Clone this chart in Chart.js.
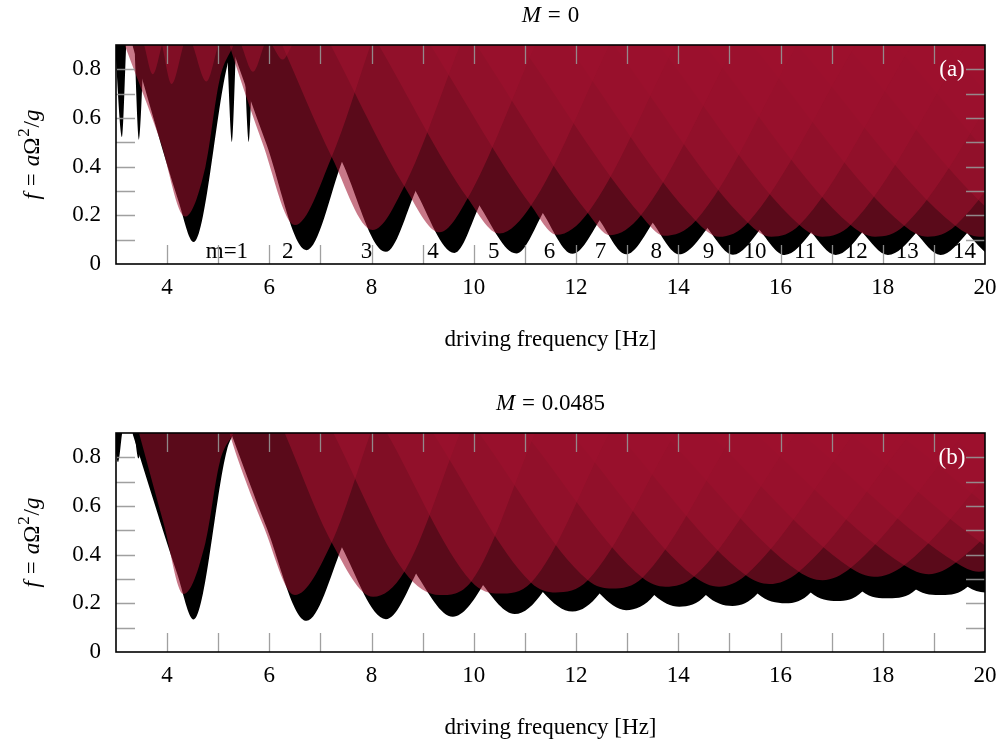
<!DOCTYPE html>
<html>
<head>
<meta charset="utf-8">
<script src="https://cdn.jsdelivr.net/npm/chart.js@4.4.0/dist/chart.umd.min.js"></script>
<style>
  html, body { margin: 0; padding: 0; background: #fff; }
  #wrap { position: relative; width: 1007px; height: 742px; }
  canvas { position: absolute; left: 0; }
  #chartA { top: 0; }
  #chartB { top: 388px; }
</style>
</head>
<body>
<div id="wrap">
  <canvas id="chartA" width="1007" height="388"></canvas>
  <canvas id="chartB" width="1007" height="354"></canvas>
</div>
<script>
// axis ranges
const freqMin = 3, freqMax = 20, fMin = 0, fMax = 0.9;

// each tongue is [frequency Hz, f] points: edge at f=0.9, left crossing,
// minimum, right crossing, edge at f=0.9
const blackTonguesA = [
  [[3.32, 0.9], [4.22, 0.26], [4.52, 0.09], [5.17, 0.81], [5.3, 0.9]],
  [[5.25, 0.9], [5.93, 0.5], [6.73, 0.057], [7.42, 0.42], [8.2, 0.9]],
  [[6.35, 0.9], [7.42, 0.42], [8.28, 0.05], [8.86, 0.30], [9.95, 0.9]],
  [[7.43, 0.9], [8.86, 0.30], [9.62, 0.045], [10.11, 0.24], [11.43, 0.9]],
  [[8.37, 0.9], [10.11, 0.24], [10.83, 0.043], [11.35, 0.21], [12.88, 0.9]],
  [[9.38, 0.9], [11.35, 0.21], [11.93, 0.042], [12.46, 0.18], [14.17, 0.9]],
  [[10.28, 0.9], [12.46, 0.18], [12.98, 0.04], [13.5, 0.17], [15.33, 0.9]],
  [[11.15, 0.9], [13.5, 0.17], [14.02, 0.04], [14.57, 0.148], [16.55, 0.9]],
  [[12.06, 0.9], [14.57, 0.148], [15.07, 0.038], [15.59, 0.14], [17.7, 0.9]],
  [[12.97, 0.9], [15.59, 0.14], [16.08, 0.037], [16.6, 0.13], [18.8, 0.9]],
  [[13.85, 0.9], [16.6, 0.13], [17.08, 0.037], [17.6, 0.13], [19.86, 0.9]],
  [[14.75, 0.9], [17.6, 0.13], [18.1, 0.037], [18.65, 0.127], [20.99, 0.9]],
  [[15.68, 0.9], [18.65, 0.127], [19.13, 0.037], [19.65, 0.127], [22.07, 0.9]],
  [[16.56, 0.9], [19.65, 0.127], [20.15, 0.037], [20.67, 0.127], [23.1, 0.9]],
  [[17.51, 0.9], [20.67, 0.127], [21.18, 0.037], [21.7, 0.127], [24.1, 0.9]],
  [[18.48, 0.9], [21.7, 0.127], [22.22, 0.037], [22.73, 0.127], [25.1, 0.9]],
  [[19.44, 0.9], [22.73, 0.127], [23.25, 0.037], [23.77, 0.127], [26.1, 0.9]]
];

const redTonguesA = [
  [[3.17, 0.9], [3.86, 0.51], [4.35, 0.195], [4.75, 0.4], [5.03, 0.76], [5.3, 0.9]],
  [[5.22, 0.9], [5.37, 0.8], [5.86, 0.5], [6.5, 0.16], [7.22, 0.44], [7.98, 0.9]],
  [[6.25, 0.9], [7.22, 0.44], [8.02, 0.14], [8.64, 0.32], [9.73, 0.9]],
  [[7.2, 0.9], [8.64, 0.32], [9.33, 0.13], [9.88, 0.27], [11.2, 0.9]],
  [[8.14, 0.9], [9.88, 0.27], [10.5, 0.125], [11.12, 0.24], [12.65, 0.9]],
  [[9.15, 0.9], [11.12, 0.24], [11.62, 0.12], [12.23, 0.21], [13.94, 0.9]],
  [[10.05, 0.9], [12.23, 0.21], [12.67, 0.118], [13.27, 0.2], [15.1, 0.9]],
  [[10.92, 0.9], [13.27, 0.2], [13.72, 0.116], [14.34, 0.178], [16.32, 0.9]],
  [[11.83, 0.9], [14.34, 0.178], [14.8, 0.112], [15.36, 0.17], [17.47, 0.9]],
  [[12.74, 0.9], [15.36, 0.17], [15.82, 0.112], [16.37, 0.16], [18.57, 0.9]],
  [[13.62, 0.9], [16.37, 0.16], [16.82, 0.112], [17.37, 0.16], [19.63, 0.9]],
  [[14.52, 0.9], [17.37, 0.16], [17.85, 0.112], [18.42, 0.157], [20.76, 0.9]],
  [[15.45, 0.9], [18.42, 0.157], [18.88, 0.112], [19.42, 0.157], [21.84, 0.9]],
  [[16.33, 0.9], [19.42, 0.157], [19.9, 0.112], [20.44, 0.157], [22.9, 0.9]],
  [[17.28, 0.9], [20.44, 0.157], [20.93, 0.112], [21.47, 0.157], [24, 0.9]],
  [[18.25, 0.9], [21.47, 0.157], [21.96, 0.112], [22.5, 0.157], [25, 0.9]],
  [[19.21, 0.9], [22.5, 0.157], [22.99, 0.112], [23.54, 0.157], [26, 0.9]]
];

// narrow tongues hanging down from the top edge
const blackSpikesA = [
  [[2.98, 0.9], [3.12, 0.52], [3.2, 0.9]],
  [[3.36, 0.9], [3.45, 0.51], [3.55, 0.9]],
  [[5.17, 0.9], [5.27, 0.5], [5.35, 0.9]],
  [[5.5, 0.9], [5.6, 0.5], [5.68, 0.9]]
];
const redScallopsA = [
  [[3.55, 0.9], [3.72, 0.78], [3.9, 0.9]],
  [[3.9, 0.9], [4.09, 0.74], [4.32, 0.9]],
  [[4.5, 0.9], [4.77, 0.75], [5.0, 0.9]],
  [[5.45, 0.9], [5.68, 0.79], [5.9, 0.9]],
  [[6.05, 0.9], [6.26, 0.84], [6.45, 0.9]]
];

const blackTonguesB = [
  [[3.32, 0.9], [4.2, 0.32], [4.52, 0.134], [5.17, 0.83], [5.3, 0.9]],
  [[5.25, 0.9], [5.93, 0.52], [6.73, 0.128], [7.42, 0.43], [8.2, 0.9]],
  [[6.4, 0.9], [7.42, 0.43], [8.28, 0.135], [8.87, 0.323], [9.95, 0.9]],
  [[7.45, 0.9], [8.87, 0.323], [9.59, 0.145], [10.18, 0.275], [11.43, 0.9]],
  [[8.42, 0.9], [10.18, 0.275], [10.8, 0.156], [11.35, 0.247], [12.85, 0.9]],
  [[9.4, 0.9], [11.35, 0.247], [11.93, 0.166], [12.46, 0.24], [14.1, 0.9]],
  [[10.26, 0.9], [12.46, 0.24], [12.98, 0.172], [13.53, 0.234], [15.2, 0.9]],
  [[11.13, 0.9], [13.53, 0.234], [14.02, 0.186], [14.54, 0.234], [16.3, 0.9]],
  [[12.32, 0.9], [14.54, 0.234], [15.06, 0.189], [15.55, 0.24], [17.38, 0.9]],
  [[13.3, 0.9], [15.55, 0.24], [16.1, 0.2], [16.59, 0.245], [18.47, 0.9]],
  [[14.25, 0.9], [16.59, 0.245], [17.11, 0.21], [17.6, 0.249], [19.51, 0.9]],
  [[15.19, 0.9], [17.6, 0.249], [18.12, 0.221], [18.65, 0.257], [20.6, 0.9]],
  [[16.18, 0.9], [18.65, 0.257], [19.16, 0.234], [19.66, 0.268], [21.64, 0.9]],
  [[17.13, 0.9], [19.66, 0.268], [20.15, 0.244], [20.67, 0.28], [22.6, 0.9]],
  [[18.14, 0.9], [20.67, 0.28], [21.18, 0.255], [21.7, 0.29], [23.6, 0.9]],
  [[19.16, 0.9], [21.7, 0.29], [22.2, 0.265], [22.73, 0.3], [24.6, 0.9]]
];

const redTonguesB = [
  [[3.45, 0.9], [3.93, 0.53], [4.32, 0.238], [4.75, 0.45], [5.03, 0.78], [5.3, 0.9]],
  [[5.22, 0.9], [5.37, 0.8], [5.88, 0.52], [6.5, 0.234], [7.22, 0.45], [7.98, 0.9]],
  [[6.3, 0.9], [7.22, 0.45], [8.03, 0.227], [8.64, 0.33], [9.73, 0.9]],
  [[7.25, 0.9], [8.64, 0.33], [9.33, 0.234], [9.95, 0.29], [11.2, 0.9]],
  [[8.3, 0.9], [9.95, 0.29], [10.5, 0.24], [11.12, 0.285], [12.65, 0.9]],
  [[9.2, 0.9], [11.12, 0.285], [11.6, 0.245], [12.23, 0.295], [13.94, 0.9]],
  [[10.1, 0.9], [12.23, 0.295], [12.71, 0.261], [13.3, 0.305], [15.1, 0.9]],
  [[11.0, 0.9], [13.3, 0.305], [13.75, 0.268], [14.31, 0.31], [16.3, 0.9]],
  [[11.9, 0.9], [14.31, 0.31], [14.8, 0.268], [15.32, 0.315], [17.45, 0.9]],
  [[12.8, 0.9], [15.32, 0.315], [15.78, 0.279], [16.36, 0.33], [18.55, 0.9]],
  [[13.7, 0.9], [16.36, 0.33], [16.82, 0.295], [17.37, 0.345], [19.6, 0.9]],
  [[14.6, 0.9], [17.37, 0.345], [17.83, 0.309], [18.42, 0.357], [20.7, 0.9]],
  [[15.5, 0.9], [18.42, 0.357], [18.9, 0.32], [19.43, 0.368], [21.8, 0.9]],
  [[16.4, 0.9], [19.43, 0.368], [19.88, 0.33], [20.44, 0.378], [22.9, 0.9]],
  [[17.35, 0.9], [20.44, 0.378], [20.92, 0.34], [21.47, 0.388], [24, 0.9]],
  [[18.3, 0.9], [21.47, 0.388], [21.95, 0.35], [22.5, 0.398], [25, 0.9]],
  [[19.25, 0.9], [22.5, 0.398], [22.98, 0.36], [23.54, 0.408], [26, 0.9]]
];

const blackSpikesB = [
  [[2.95, 0.9], [3.04, 0.78], [3.12, 0.9]],
  [[3.36, 0.9], [3.44, 0.795], [3.53, 0.9]]
];

// mode numbers written under the tongues of the upper panel
const modeLabels = ['m=1', '2', '3', '4', '5', '6', '7', '8', '9', '10', '11', '12', '13', '14'];
const modeLabelFreq = [5.17, 6.36, 7.9, 9.2, 10.39, 11.48, 12.48, 13.57, 14.59, 15.5, 16.48, 17.48, 18.48, 19.6];
const modeLabelLevel = 0.025;

const SERIF = "'Liberation Serif', 'Times New Roman', serif";
const FONT_SIZE = 23;
const BLACK = '#000000';
const CRIMSON = 'rgba(158, 17, 46, 0.57)';
const TICK_LEN = 19;

function tongueDataset(points, color, order) {
    return {
        data: points.map(([x, y]) => ({ x: x, y: y })),
        backgroundColor: color,
        borderColor: 'rgba(0,0,0,0)',
        borderWidth: 0,
        pointRadius: 0,
        fill: 'end',
        cubicInterpolationMode: 'monotone',
        order: order
    };
}

function fontFor(part) {
    const size = part.sup ? Math.round(FONT_SIZE * 0.72) : FONT_SIZE;
    return (part.italic ? 'italic ' : '') + size + 'px ' + SERIF;
}

// draws mixed italic / upright text centred on the current origin, baseline at 0;
// `pad` adds math-style spacing (in em) on both sides of a part
function drawRichText(ctx, parts) {
    let total = 0;
    const widths = parts.map(p => {
        ctx.font = fontFor(p);
        const w = ctx.measureText(p.t).width + 2 * (p.pad || 0) * FONT_SIZE;
        total += w;
        return w;
    });
    let x = -total / 2;
    ctx.textAlign = 'left';
    ctx.textBaseline = 'alphabetic';
    parts.forEach((p, i) => {
        ctx.font = fontFor(p);
        ctx.fillText(p.t, x + (p.pad || 0) * FONT_SIZE, p.sup ? -FONT_SIZE * 0.42 : 0);
        x += widths[i];
    });
}

const yTitleParts = [
    { t: 'f', italic: true }, { t: '=', pad: 0.3 }, { t: 'a', italic: true },
    { t: 'Ω' }, { t: '2', sup: true, pad: 0.04 }, { t: '/' }, { t: 'g', italic: true }
];

function makePanelPlugin(titleParts, panelTag, withModeLabels) {
    return {
        id: 'panelDecor',
        beforeDatasetsDraw(chart) {
            if (!withModeLabels) return;
            const { ctx, scales: { x, y } } = chart;
            ctx.save();
            ctx.fillStyle = '#000';
            ctx.font = FONT_SIZE + 'px ' + SERIF;
            ctx.textAlign = 'center';
            ctx.textBaseline = 'alphabetic';
            modeLabels.forEach((txt, i) => {
                ctx.fillText(txt, x.getPixelForValue(modeLabelFreq[i]), y.getPixelForValue(modeLabelLevel));
            });
            ctx.restore();
        },
        afterDatasetsDraw(chart) {
            const { ctx, chartArea: a, scales: { x, y } } = chart;
            ctx.save();

            // inward tick marks on all four sides
            ctx.strokeStyle = 'rgba(150, 150, 150, 0.9)';
            ctx.lineWidth = 1.3;
            ctx.beginPath();
            x.ticks.forEach(t => {
                if (t.value <= x.min || t.value >= x.max) return;
                const px = Math.round(x.getPixelForValue(t.value)) + 0.5;
                ctx.moveTo(px, a.bottom); ctx.lineTo(px, a.bottom - TICK_LEN);
                ctx.moveTo(px, a.top); ctx.lineTo(px, a.top + TICK_LEN);
            });
            y.ticks.forEach(t => {
                if (t.value <= y.min + 1e-9 || t.value >= y.max - 1e-9) return;
                const py = Math.round(y.getPixelForValue(t.value)) + 0.5;
                ctx.moveTo(a.left, py); ctx.lineTo(a.left + TICK_LEN, py);
                ctx.moveTo(a.right, py); ctx.lineTo(a.right - TICK_LEN, py);
            });
            ctx.stroke();

            // frame
            ctx.strokeStyle = '#000';
            ctx.lineWidth = 1.6;
            ctx.strokeRect(a.left, a.top, a.right - a.left, a.bottom - a.top);

            // panel tag
            ctx.fillStyle = '#fff';
            ctx.font = FONT_SIZE + 'px ' + SERIF;
            ctx.textAlign = 'center';
            ctx.textBaseline = 'alphabetic';
            ctx.fillText(panelTag, a.right - 33, a.top + 31);

            // title above the panel
            ctx.fillStyle = '#000';
            ctx.save();
            ctx.translate((a.left + a.right) / 2, 22);
            drawRichText(ctx, titleParts);
            ctx.restore();

            // rotated y axis title
            ctx.save();
            ctx.translate(39, (a.top + a.bottom) / 2);
            ctx.rotate(-Math.PI / 2);
            drawRichText(ctx, yTitleParts);
            ctx.restore();

            ctx.restore();
        }
    };
}

function buildChart(canvasId, cfg) {
    const ctx = document.getElementById(canvasId).getContext('2d');
    const datasets = [];
    cfg.red.forEach(t => datasets.push(tongueDataset(t, CRIMSON, 1)));
    cfg.black.forEach(t => datasets.push(tongueDataset(t, BLACK, 2)));

    return new Chart(ctx, {
        type: 'line',
        data: { datasets: datasets },
        options: {
            responsive: false,
            animation: false,
            devicePixelRatio: 1,
            events: [],
            layout: { padding: { left: 56, right: 22, top: 45, bottom: cfg.bottomPad } },
            scales: {
                x: {
                    type: 'linear',
                    min: freqMin,
                    max: freqMax,
                    grid: { display: false, drawTicks: false },
                    border: { display: false },
                    ticks: {
                        stepSize: 1,
                        autoSkip: false,
                        maxRotation: 0,
                        padding: 10,
                        color: '#000',
                        font: { family: SERIF, size: FONT_SIZE },
                        callback: v => (v % 2 === 0 ? String(v) : '')
                    },
                    title: {
                        display: true,
                        text: 'driving frequency [Hz]',
                        color: '#000',
                        font: { family: SERIF, size: FONT_SIZE },
                        padding: { top: 0, bottom: 0 }
                    },
                    afterFit: scale => { scale.height = 90; }
                },
                y: {
                    type: 'linear',
                    min: fMin,
                    max: fMax,
                    grid: { display: false, drawTicks: false },
                    border: { display: false },
                    ticks: {
                        stepSize: 0.1,
                        autoSkip: false,
                        padding: 15,
                        color: '#000',
                        font: { family: SERIF, size: FONT_SIZE },
                        callback: v => {
                            const k = Math.round(v * 10);
                            if (k % 2 !== 0) return '';
                            return k === 0 ? '0' : (k / 10).toFixed(1);
                        }
                    },
                    afterFit: scale => { scale.width = 60; }
                }
            },
            plugins: {
                legend: { display: false },
                tooltip: { enabled: false },
                title: { display: false }
            }
        },
        plugins: [makePanelPlugin(cfg.title, cfg.tag, cfg.modeLabels)]
    });
}

buildChart('chartA', {
    black: blackSpikesA.concat(blackTonguesA),
    red: redTonguesA.concat(redScallopsA),
    title: [{ t: 'M', italic: true }, { t: '=', pad: 0.3 }, { t: '0' }],
    tag: '(a)',
    modeLabels: true,
    bottomPad: 34
});

buildChart('chartB', {
    black: blackSpikesB.concat(blackTonguesB),
    red: redTonguesB,
    title: [{ t: 'M', italic: true }, { t: '=', pad: 0.3 }, { t: '0.0485' }],
    tag: '(b)',
    modeLabels: false,
    bottomPad: 0
});
</script>
</body>
</html>
